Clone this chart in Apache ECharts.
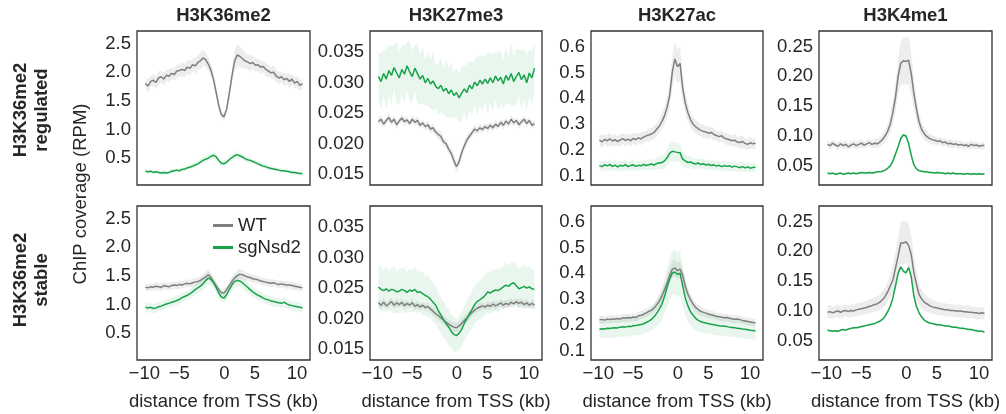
<!DOCTYPE html>
<html><head><meta charset="utf-8">
<script src="https://cdn.jsdelivr.net/npm/echarts@6/dist/echarts.min.js"></script>
<style>html,body{margin:0;padding:0;background:#fff}#c{width:1006px;height:414px}</style>
</head><body><div id="c"></div>
<script>
// ---------------- data ----------------
const marks = ['H3K36me2', 'H3K27me3', 'H3K27ac', 'H3K4me1'];
const rowNames = ['H3K36me2\nregulated', 'H3K36me2\nstable'];
const conditions = ['WT', 'sgNsd2'];
const yAxisTitle = 'ChIP coverage (RPM)';
const xAxisTitle = 'distance from TSS (kb)';
const xTickValues = [-10.15, -5.7, 0.05, 3.95, 9.3];
const xTickLabels = ['\u221210', '\u22125', '0', '5', '10'];
const yTickValues = [[0.5, 1.0, 1.5, 2.0, 2.5], [0.015, 0.020, 0.025, 0.030, 0.035], [0.1, 0.2, 0.3, 0.4, 0.5, 0.6], [0.05, 0.10, 0.15, 0.20, 0.25]];
const yTickLabels = [['0.5', '1.0', '1.5', '2.0', '2.5'], ['0.015', '0.020', '0.025', '0.030', '0.035'], ['0.1', '0.2', '0.3', '0.4', '0.5', '0.6'], ['0.05', '0.10', '0.15', '0.20', '0.25']];

// regulated row
const regK36WT = [1.80,1.76,1.84,1.86,1.82,1.90,1.92,1.88,1.95,1.93,
 1.98,1.96,2.02,2.03,2.05,2.03,2.09,2.07,2.13,2.11,
 2.17,2.20,2.25,2.22,2.14,2.04,1.88,1.65,1.42,1.26,
 1.22,
 1.35,1.62,1.92,2.18,2.30,2.28,2.24,2.20,2.18,2.15,
 2.17,2.12,2.13,2.09,2.10,2.05,2.02,1.99,2.00,1.93,
 1.90,1.92,1.87,1.89,1.84,1.88,1.81,1.84,1.77,1.80];
const regK36WTsd = [0.10,0.12,0.09,0.11,0.10,0.12,0.10,0.11,0.09,0.12,
 0.10,0.11,0.12,0.10,0.13,0.11,0.12,0.13,0.11,0.14,
 0.13,0.15,0.14,0.13,0.12,0.11,0.09,0.08,0.07,0.06,
 0.06,
 0.07,0.09,0.13,0.18,0.20,0.18,0.16,0.15,0.13,0.14,
 0.12,0.13,0.11,0.12,0.10,0.12,0.11,0.10,0.12,0.10,
 0.11,0.09,0.11,0.10,0.12,0.09,0.10,0.11,0.09,0.10];
const regK36KO = [0.27,0.26,0.27,0.25,0.26,0.25,0.24,0.25,0.24,0.25,
 0.27,0.28,0.29,0.28,0.30,0.31,0.33,0.34,0.36,0.38,
 0.40,0.43,0.46,0.48,0.50,0.53,0.55,0.52,0.46,0.41,
 0.40,
 0.43,0.47,0.51,0.54,0.56,0.54,0.52,0.49,0.47,0.46,
 0.44,0.42,0.40,0.38,0.36,0.35,0.33,0.32,0.31,0.30,
 0.29,0.28,0.28,0.27,0.26,0.25,0.25,0.24,0.23,0.23];
const regK36KOsd = [0.03,0.04,0.03,0.03,0.04,0.03,0.03,0.04,0.03,0.03,
 0.04,0.03,0.04,0.03,0.04,0.04,0.03,0.04,0.04,0.05,
 0.04,0.05,0.05,0.06,0.05,0.06,0.06,0.05,0.05,0.04,
 0.04,
 0.05,0.05,0.06,0.06,0.07,0.06,0.05,0.06,0.05,0.05,
 0.04,0.05,0.04,0.04,0.04,0.03,0.04,0.03,0.04,0.03,
 0.03,0.04,0.03,0.03,0.03,0.04,0.03,0.03,0.03,0.03];

const regK27me3WT = [0.0236,0.0240,0.0232,0.0238,0.0243,0.0235,0.0240,0.0231,0.0237,0.0242,
 0.0236,0.0239,0.0233,0.0240,0.0235,0.0238,0.0230,0.0234,0.0228,0.0231,
 0.0224,0.0226,0.0219,0.0215,0.0212,0.0203,0.0200,0.0191,0.0184,0.0172,
 0.0162,
 0.0170,0.0185,0.0196,0.0206,0.0212,0.0218,0.0224,0.0221,0.0226,0.0223,
 0.0228,0.0225,0.0230,0.0226,0.0232,0.0228,0.0235,0.0230,0.0237,0.0232,
 0.0240,0.0234,0.0238,0.0231,0.0236,0.0240,0.0233,0.0238,0.0230,0.0233];
const regK27me3WTsd = [0.0006,0.0007,0.0006,0.0005,0.0007,0.0006,0.0006,0.0007,0.0005,0.0006,
 0.0007,0.0006,0.0005,0.0007,0.0006,0.0007,0.0006,0.0005,0.0006,0.0007,
 0.0006,0.0007,0.0006,0.0007,0.0008,0.0007,0.0008,0.0007,0.0008,0.0008,
 0.0009,
 0.0008,0.0008,0.0007,0.0008,0.0007,0.0006,0.0007,0.0006,0.0007,0.0006,
 0.0005,0.0007,0.0006,0.0006,0.0007,0.0005,0.0006,0.0007,0.0006,0.0006,
 0.0007,0.0006,0.0005,0.0007,0.0006,0.0006,0.0007,0.0005,0.0006,0.0006];
const regK27me3KO = [0.0310,0.0302,0.0315,0.0306,0.0320,0.0312,0.0325,0.0316,0.0308,0.0322,
 0.0314,0.0328,0.0318,0.0310,0.0324,0.0315,0.0306,0.0312,0.0300,0.0307,
 0.0298,0.0303,0.0294,0.0290,0.0296,0.0286,0.0291,0.0282,0.0288,0.0279,
 0.0284,
 0.0275,0.0283,0.0290,0.0284,0.0296,0.0290,0.0301,0.0295,0.0304,0.0298,
 0.0306,0.0299,0.0308,0.0300,0.0311,0.0303,0.0309,0.0298,0.0312,0.0304,
 0.0315,0.0302,0.0310,0.0317,0.0305,0.0313,0.0300,0.0316,0.0308,0.0324];
const regK27me3KOsd = [0.0040,0.0046,0.0038,0.0050,0.0042,0.0048,0.0036,0.0052,0.0044,0.0040,
 0.0047,0.0039,0.0051,0.0043,0.0038,0.0049,0.0041,0.0046,0.0037,0.0044,
 0.0040,0.0048,0.0036,0.0042,0.0045,0.0038,0.0047,0.0040,0.0044,0.0037,
 0.0042,
 0.0039,0.0045,0.0038,0.0046,0.0040,0.0043,0.0037,0.0048,0.0041,0.0045,
 0.0038,0.0050,0.0042,0.0046,0.0039,0.0049,0.0043,0.0040,0.0047,0.0038,
 0.0051,0.0042,0.0045,0.0039,0.0048,0.0041,0.0046,0.0038,0.0044,0.0040];

const regK27acWT = [0.238,0.232,0.241,0.236,0.243,0.235,0.240,0.233,0.239,0.244,
 0.237,0.242,0.236,0.245,0.240,0.247,0.243,0.250,0.255,0.258,
 0.262,0.268,0.280,0.292,0.310,0.332,0.365,0.410,0.500,0.552,
 0.522,
 0.535,0.440,0.382,0.345,0.318,0.300,0.290,0.282,0.276,0.272,
 0.270,0.265,0.268,0.260,0.256,0.252,0.255,0.246,0.243,0.240,
 0.236,0.238,0.231,0.229,0.233,0.226,0.222,0.228,0.224,0.226];
const regK27acWTsd = [0.020,0.024,0.019,0.022,0.025,0.020,0.023,0.019,0.024,0.021,
 0.022,0.020,0.025,0.021,0.023,0.019,0.024,0.022,0.021,0.025,
 0.023,0.026,0.024,0.027,0.030,0.032,0.038,0.048,0.060,0.068,
 0.064,
 0.066,0.052,0.040,0.034,0.030,0.028,0.026,0.025,0.024,0.027,
 0.022,0.025,0.021,0.024,0.020,0.023,0.022,0.019,0.024,0.021,
 0.020,0.023,0.019,0.022,0.024,0.020,0.021,0.023,0.019,0.022];
const regK27acKO = [0.140,0.136,0.143,0.139,0.145,0.137,0.142,0.135,0.141,0.138,
 0.144,0.136,0.140,0.143,0.137,0.141,0.139,0.145,0.140,0.143,
 0.146,0.142,0.148,0.150,0.152,0.158,0.170,0.188,0.195,0.193,
 0.191,
 0.190,0.165,0.158,0.152,0.154,0.149,0.146,0.150,0.144,0.147,
 0.142,0.145,0.140,0.143,0.138,0.141,0.136,0.140,0.137,0.139,
 0.134,0.138,0.135,0.132,0.136,0.131,0.135,0.130,0.133,0.134];
const regK27acKOsd = [0.018,0.020,0.017,0.019,0.021,0.018,0.020,0.017,0.019,0.018,
 0.020,0.017,0.019,0.021,0.018,0.020,0.017,0.019,0.018,0.020,
 0.019,0.021,0.022,0.024,0.026,0.028,0.032,0.036,0.038,0.037,
 0.036,
 0.035,0.030,0.026,0.024,0.022,0.021,0.020,0.019,0.021,0.018,
 0.020,0.017,0.019,0.018,0.020,0.017,0.019,0.018,0.017,0.019,
 0.018,0.020,0.017,0.019,0.018,0.016,0.019,0.017,0.018,0.017];

const regK4me1WT = [0.086,0.084,0.088,0.085,0.083,0.087,0.084,0.086,0.082,0.085,
 0.087,0.084,0.086,0.088,0.085,0.087,0.089,0.086,0.088,0.087,
 0.090,0.094,0.100,0.108,0.120,0.140,0.165,0.200,0.222,0.226,
 0.225,
 0.227,0.205,0.172,0.146,0.124,0.111,0.104,0.099,0.096,0.094,
 0.093,0.091,0.092,0.089,0.090,0.087,0.088,0.086,0.087,0.085,
 0.086,0.084,0.085,0.083,0.086,0.084,0.085,0.083,0.084,0.084];
const regK4me1WTsd = [0.006,0.007,0.006,0.005,0.007,0.006,0.006,0.007,0.005,0.006,
 0.007,0.006,0.006,0.007,0.006,0.007,0.006,0.007,0.007,0.008,
 0.008,0.009,0.010,0.012,0.015,0.019,0.024,0.030,0.036,0.040,
 0.039,
 0.040,0.034,0.026,0.020,0.015,0.012,0.010,0.009,0.008,0.008,
 0.007,0.007,0.006,0.007,0.006,0.006,0.007,0.006,0.006,0.007,
 0.006,0.006,0.005,0.006,0.007,0.006,0.006,0.005,0.006,0.006];
const regK4me1KO = [0.038,0.037,0.038,0.036,0.037,0.038,0.036,0.037,0.038,0.037,
 0.038,0.037,0.038,0.039,0.038,0.038,0.039,0.038,0.039,0.040,
 0.040,0.041,0.043,0.046,0.050,0.058,0.070,0.082,0.096,0.102,
 0.100,
 0.088,0.068,0.052,0.045,0.042,0.041,0.040,0.040,0.039,0.039,
 0.038,0.039,0.038,0.038,0.037,0.038,0.037,0.038,0.037,0.037,
 0.037,0.036,0.037,0.037,0.036,0.037,0.036,0.037,0.036,0.037];
const regK4me1KOsd = [0.002,0.002,0.002,0.002,0.002,0.002,0.002,0.002,0.002,0.002,
 0.002,0.002,0.002,0.002,0.002,0.002,0.002,0.002,0.002,0.002,
 0.002,0.002,0.002,0.003,0.003,0.003,0.003,0.004,0.004,0.004,
 0.004,
 0.004,0.003,0.003,0.003,0.002,0.002,0.002,0.002,0.002,0.002,
 0.002,0.002,0.002,0.002,0.002,0.002,0.002,0.002,0.002,0.002,
 0.002,0.002,0.002,0.002,0.002,0.002,0.002,0.002,0.002,0.002];

// stable row
const stbK36WT = [1.30,1.29,1.31,1.30,1.32,1.31,1.30,1.33,1.32,1.31,
 1.33,1.34,1.33,1.35,1.34,1.36,1.37,1.36,1.38,1.39,
 1.40,1.42,1.45,1.48,1.52,1.47,1.40,1.33,1.26,1.21,
 1.20,
 1.26,1.33,1.40,1.46,1.50,1.53,1.52,1.50,1.48,1.47,
 1.45,1.44,1.43,1.41,1.40,1.39,1.38,1.37,1.38,1.36,
 1.35,1.36,1.35,1.34,1.34,1.33,1.32,1.31,1.30,1.29];
const stbK36WTsd = [0.06,0.07,0.06,0.06,0.07,0.06,0.07,0.06,0.06,0.07,
 0.06,0.07,0.06,0.07,0.06,0.07,0.07,0.06,0.07,0.07,
 0.07,0.08,0.08,0.09,0.09,0.08,0.08,0.07,0.07,0.06,
 0.06,
 0.07,0.07,0.08,0.08,0.09,0.09,0.08,0.08,0.07,0.07,
 0.07,0.06,0.07,0.06,0.07,0.06,0.06,0.07,0.06,0.06,
 0.07,0.06,0.06,0.07,0.06,0.06,0.07,0.06,0.06,0.06];
const stbK36KO = [0.95,0.94,0.95,0.93,0.94,0.96,0.97,0.99,1.01,1.02,
 1.04,1.05,1.07,1.09,1.12,1.14,1.16,1.19,1.22,1.26,
 1.29,1.32,1.36,1.42,1.46,1.44,1.38,1.30,1.20,1.13,
 1.11,
 1.17,1.26,1.34,1.40,1.42,1.41,1.38,1.34,1.30,1.26,
 1.22,1.19,1.16,1.14,1.11,1.09,1.08,1.06,1.05,1.04,
 1.03,1.02,1.04,1.01,0.99,0.98,0.97,0.96,0.95,0.94];
const stbK36KOsd = [0.08,0.09,0.08,0.08,0.09,0.08,0.08,0.09,0.08,0.08,
 0.09,0.08,0.09,0.08,0.08,0.09,0.08,0.09,0.09,0.09,
 0.10,0.10,0.10,0.11,0.11,0.10,0.10,0.09,0.09,0.08,
 0.08,
 0.09,0.09,0.10,0.10,0.11,0.10,0.10,0.10,0.09,0.09,
 0.09,0.08,0.09,0.08,0.08,0.09,0.08,0.08,0.09,0.08,
 0.08,0.08,0.09,0.08,0.08,0.08,0.09,0.08,0.08,0.08];

const stbK27me3WT = [0.0226,0.0222,0.0227,0.0221,0.0224,0.0228,0.0222,0.0226,0.0223,0.0227,
 0.0221,0.0225,0.0222,0.0226,0.0220,0.0223,0.0219,0.0222,0.0218,0.0220,
 0.0216,0.0212,0.0208,0.0205,0.0201,0.0198,0.0194,0.0191,0.0188,0.0186,
 0.0185,
 0.0188,0.0192,0.0197,0.0201,0.0206,0.0210,0.0214,0.0217,0.0219,0.0221,
 0.0219,0.0222,0.0220,0.0224,0.0221,0.0223,0.0226,0.0222,0.0225,0.0223,
 0.0227,0.0224,0.0228,0.0225,0.0227,0.0223,0.0226,0.0222,0.0225,0.0222];
const stbK27me3WTsd = [0.0006,0.0007,0.0006,0.0005,0.0007,0.0006,0.0006,0.0007,0.0005,0.0006,
 0.0007,0.0006,0.0005,0.0007,0.0006,0.0007,0.0006,0.0005,0.0006,0.0007,
 0.0006,0.0007,0.0006,0.0007,0.0008,0.0007,0.0008,0.0007,0.0008,0.0008,
 0.0008,
 0.0008,0.0008,0.0007,0.0008,0.0007,0.0006,0.0007,0.0006,0.0007,0.0006,
 0.0005,0.0007,0.0006,0.0006,0.0007,0.0005,0.0006,0.0007,0.0006,0.0006,
 0.0007,0.0006,0.0005,0.0007,0.0006,0.0006,0.0007,0.0005,0.0006,0.0006];
const stbK27me3KO = [0.0252,0.0248,0.0246,0.0249,0.0245,0.0248,0.0247,0.0244,0.0245,0.0248,
 0.0246,0.0243,0.0247,0.0245,0.0248,0.0243,0.0244,0.0241,0.0238,0.0236,
 0.0232,0.0227,0.0222,0.0213,0.0206,0.0198,0.0192,0.0186,0.0179,0.0174,
 0.0172,
 0.0176,0.0182,0.0192,0.0200,0.0208,0.0215,0.0223,0.0228,0.0231,0.0234,
 0.0238,0.0244,0.0242,0.0245,0.0247,0.0246,0.0249,0.0252,0.0255,0.0253,
 0.0257,0.0259,0.0254,0.0249,0.0251,0.0253,0.0250,0.0252,0.0249,0.0248];
const stbK27me3KOsd = [0.0035,0.0038,0.0034,0.0037,0.0033,0.0036,0.0039,0.0034,0.0037,0.0035,
 0.0038,0.0033,0.0036,0.0034,0.0037,0.0035,0.0033,0.0036,0.0032,0.0034,
 0.0031,0.0033,0.0030,0.0031,0.0029,0.0030,0.0028,0.0029,0.0027,0.0028,
 0.0027,
 0.0028,0.0029,0.0028,0.0030,0.0029,0.0031,0.0030,0.0032,0.0031,0.0033,
 0.0032,0.0034,0.0033,0.0035,0.0034,0.0036,0.0033,0.0035,0.0037,0.0034,
 0.0036,0.0033,0.0035,0.0032,0.0034,0.0036,0.0033,0.0035,0.0032,0.0034];

const stbK27acWT = [0.220,0.222,0.219,0.223,0.221,0.224,0.222,0.225,0.223,0.228,
 0.226,0.229,0.227,0.231,0.229,0.236,0.238,0.242,0.247,0.253,
 0.258,0.266,0.278,0.292,0.312,0.336,0.362,0.392,0.415,0.421,
 0.410,
 0.416,0.392,0.350,0.320,0.298,0.282,0.268,0.260,0.253,0.249,
 0.246,0.242,0.240,0.237,0.234,0.232,0.230,0.228,0.229,0.226,
 0.224,0.222,0.223,0.221,0.218,0.216,0.214,0.212,0.210,0.209];
const stbK27acWTsd = [0.015,0.016,0.014,0.015,0.016,0.015,0.014,0.016,0.015,0.015,
 0.016,0.015,0.014,0.016,0.015,0.016,0.015,0.016,0.017,0.017,
 0.018,0.019,0.020,0.022,0.024,0.026,0.028,0.030,0.032,0.032,
 0.031,
 0.032,0.030,0.027,0.024,0.022,0.020,0.019,0.018,0.017,0.017,
 0.016,0.016,0.015,0.016,0.015,0.015,0.016,0.015,0.014,0.015,
 0.015,0.016,0.014,0.015,0.015,0.014,0.015,0.016,0.014,0.015];
const stbK27acKO = [0.184,0.186,0.185,0.188,0.187,0.189,0.190,0.189,0.192,0.193,
 0.192,0.195,0.194,0.197,0.198,0.200,0.202,0.205,0.210,0.215,
 0.222,0.232,0.245,0.262,0.280,0.310,0.345,0.378,0.400,0.405,
 0.396,
 0.400,0.352,0.305,0.275,0.252,0.238,0.226,0.218,0.213,0.210,
 0.208,0.205,0.203,0.201,0.199,0.197,0.196,0.195,0.194,0.192,
 0.191,0.190,0.188,0.187,0.185,0.184,0.182,0.180,0.179,0.177];
const stbK27acKOsd = [0.036,0.038,0.035,0.037,0.039,0.036,0.038,0.035,0.037,0.038,
 0.036,0.039,0.037,0.038,0.036,0.039,0.038,0.040,0.041,0.042,
 0.044,0.046,0.050,0.055,0.060,0.066,0.073,0.080,0.085,0.087,
 0.085,
 0.086,0.078,0.068,0.060,0.054,0.050,0.046,0.044,0.042,0.041,
 0.040,0.039,0.038,0.039,0.037,0.038,0.036,0.037,0.038,0.036,
 0.037,0.035,0.036,0.038,0.035,0.036,0.037,0.035,0.036,0.035];

const stbK4me1WT = [0.098,0.099,0.097,0.099,0.100,0.098,0.100,0.101,0.099,0.101,
 0.100,0.102,0.103,0.104,0.105,0.106,0.108,0.109,0.111,0.112,
 0.115,0.119,0.124,0.132,0.142,0.152,0.172,0.192,0.214,0.214,
 0.216,
 0.210,0.195,0.165,0.145,0.128,0.120,0.115,0.112,0.109,0.107,
 0.106,0.105,0.104,0.103,0.102,0.102,0.101,0.101,0.100,0.100,
 0.100,0.099,0.099,0.098,0.098,0.097,0.097,0.096,0.097,0.096];
const stbK4me1WTsd = [0.010,0.011,0.010,0.010,0.011,0.010,0.011,0.010,0.010,0.011,
 0.010,0.011,0.011,0.010,0.011,0.011,0.012,0.011,0.012,0.012,
 0.013,0.014,0.015,0.017,0.020,0.024,0.028,0.032,0.035,0.036,
 0.035,
 0.036,0.033,0.028,0.023,0.019,0.016,0.014,0.013,0.012,0.012,
 0.011,0.011,0.011,0.010,0.011,0.010,0.011,0.010,0.010,0.011,
 0.010,0.010,0.011,0.010,0.010,0.010,0.011,0.010,0.010,0.010];
const stbK4me1KO = [0.068,0.067,0.066,0.067,0.066,0.068,0.069,0.068,0.070,0.071,
 0.072,0.072,0.073,0.074,0.075,0.076,0.077,0.078,0.079,0.081,
 0.083,0.086,0.091,0.099,0.108,0.122,0.142,0.163,0.174,0.167,
 0.164,
 0.173,0.158,0.126,0.108,0.097,0.090,0.085,0.082,0.080,0.079,
 0.078,0.077,0.077,0.076,0.075,0.075,0.074,0.073,0.073,0.072,
 0.071,0.071,0.070,0.069,0.069,0.068,0.067,0.066,0.066,0.065];
const stbK4me1KOsd = [0.002,0.002,0.002,0.002,0.002,0.002,0.002,0.002,0.002,0.002,
 0.002,0.002,0.002,0.002,0.002,0.002,0.002,0.002,0.002,0.002,
 0.002,0.002,0.002,0.003,0.003,0.003,0.003,0.004,0.004,0.004,
 0.004,
 0.004,0.003,0.003,0.003,0.002,0.002,0.002,0.002,0.002,0.002,
 0.002,0.002,0.002,0.002,0.002,0.002,0.002,0.002,0.002,0.002,
 0.002,0.002,0.002,0.002,0.002,0.002,0.002,0.002,0.002,0.002];

// sample positions (kb from TSS), one every 1/3 kb
const positionsKb = Array.from({length: 61}, (_, i) => -10 + i / 3);

// ---------------- layout / style ----------------
const FONT = 'Liberation Sans, Arial, Helvetica, sans-serif';
const FS = 18.5;
const TEXT = '#262626';
const gridLeft = [137, 370, 591, 819];
const gridWidth = [173, 172, 172, 173];
const gridTop = [31, 206];
const gridHeight = 154;
const yMin = [0.03, 0.0132, 0.065, 0.018];
const yMax = [2.72, 0.0385, 0.66, 0.276];
const lineColor = ['#7f7f7f', '#17a34a'];
const bandColor = ['rgba(128,128,128,0.14)', 'rgba(23,163,74,0.095)'];

const panels = [
  {row: 0, col: 0, m: [regK36WT, regK36KO], sd: [regK36WTsd, regK36KOsd]},
  {row: 0, col: 1, m: [regK27me3WT, regK27me3KO], sd: [regK27me3WTsd, regK27me3KOsd]},
  {row: 0, col: 2, m: [regK27acWT, regK27acKO], sd: [regK27acWTsd, regK27acKOsd]},
  {row: 0, col: 3, m: [regK4me1WT, regK4me1KO], sd: [regK4me1WTsd, regK4me1KOsd]},
  {row: 1, col: 0, m: [stbK36WT, stbK36KO], sd: [stbK36WTsd, stbK36KOsd]},
  {row: 1, col: 1, m: [stbK27me3WT, stbK27me3KO], sd: [stbK27me3WTsd, stbK27me3KOsd]},
  {row: 1, col: 2, m: [stbK27acWT, stbK27acKO], sd: [stbK27acWTsd, stbK27acKOsd]},
  {row: 1, col: 3, m: [stbK4me1WT, stbK4me1KO], sd: [stbK4me1WTsd, stbK4me1KOsd]}
];

function nearestIdx(arr, v) {
  let best = 0;
  for (let i = 1; i < arr.length; i++) if (Math.abs(arr[i] - v) < Math.abs(arr[best] - v)) best = i;
  return best;
}

const grid = [], xAxis = [], yAxis = [], series = [];
panels.forEach((p, k) => {
  grid.push({left: gridLeft[p.col], top: gridTop[p.row], width: gridWidth[p.col], height: gridHeight,
    show: true, borderColor: '#333333', borderWidth: 1.3, backgroundColor: 'transparent', containLabel: false});
  xAxis.push({gridIndex: k, type: 'value', min: -11.08, max: 10.96,
    axisLine: {show: false}, axisTick: {show: false}, splitLine: {show: false},
    axisLabel: {show: p.row === 1, customValues: xTickValues,
      formatter: v => xTickLabels[nearestIdx(xTickValues, v)],
      margin: 4, fontSize: FS, color: TEXT, fontFamily: FONT},
    name: p.row === 1 ? xAxisTitle : '', nameLocation: 'middle', nameGap: 32,
    nameTextStyle: {fontSize: FS, color: TEXT, fontFamily: FONT}});
  yAxis.push({gridIndex: k, type: 'value', min: yMin[p.col], max: yMax[p.col],
    axisLine: {show: false}, axisTick: {show: false}, splitLine: {show: false},
    axisLabel: {customValues: yTickValues[p.col],
      formatter: v => yTickLabels[p.col][nearestIdx(yTickValues[p.col], v)],
      margin: 6, fontSize: FS, color: TEXT, fontFamily: FONT}});
  [0, 1].forEach(c => {
    const mean = p.m[c], sd = p.sd[c];
    const fill = bandColor[c];
    series.push({
      type: 'custom', xAxisIndex: k, yAxisIndex: k, silent: true, z: 1,
      data: positionsKb.map((x, i) => [x, mean[i] - sd[i], mean[i] + sd[i]]),
      encode: {x: 0, y: [1, 2]},
      renderItem: function (params, api) {
        if (params.dataIndex !== 0) return null;
        const top = [], bot = [];
        for (let i = 0; i < positionsKb.length; i++) {
          top.push(api.coord([positionsKb[i], mean[i] + sd[i]]));
          bot.push(api.coord([positionsKb[i], mean[i] - sd[i]]));
        }
        return {type: 'polygon', shape: {points: top.concat(bot.reverse())}, style: {fill: fill}};
      }
    });
  });
  [0, 1].forEach(c => {
    series.push({
      type: 'line', name: conditions[c], xAxisIndex: k, yAxisIndex: k, z: 3 + c,
      data: positionsKb.map((x, i) => [x, p.m[c][i]]),
      symbol: 'none', showSymbol: false, silent: true, animation: false,
      lineStyle: {width: 1.5, color: lineColor[c]}, itemStyle: {color: lineColor[c]}
    });
  });
});

const graphic = [];
marks.forEach((m, c) => {
  graphic.push({type: 'text', x: gridLeft[c] + gridWidth[c] / 2, y: 16,
    style: {text: m, fontFamily: FONT, fontSize: FS, fontWeight: 'bold', fill: TEXT, align: 'center', verticalAlign: 'middle'}});
});
rowNames.forEach((r, i) => {
  graphic.push({type: 'text', x: 31, y: i === 0 ? 110 : 280, rotation: Math.PI / 2,
    style: {text: r, fontFamily: FONT, fontSize: FS, fontWeight: 'bold', fill: TEXT, align: 'center', verticalAlign: 'middle', lineHeight: 21}});
});
graphic.push({type: 'text', x: 80.5, y: 194, rotation: Math.PI / 2,
  style: {text: yAxisTitle, fontFamily: FONT, fontSize: FS, fill: TEXT, align: 'center', verticalAlign: 'middle'}});

const chart = echarts.init(document.getElementById('c'), null, {renderer: 'canvas'});
chart.setOption({
  animation: false,
  backgroundColor: '#ffffff',
  grid, xAxis, yAxis, series, graphic,
  legend: {data: conditions, orient: 'vertical', left: 213, top: 216, padding: 0, itemGap: 3,
    itemWidth: 20, itemHeight: 3, icon: 'rect', selectedMode: false,
    textStyle: {fontSize: FS, color: TEXT, fontFamily: FONT, lineHeight: 18}}
});
</script></body></html>
